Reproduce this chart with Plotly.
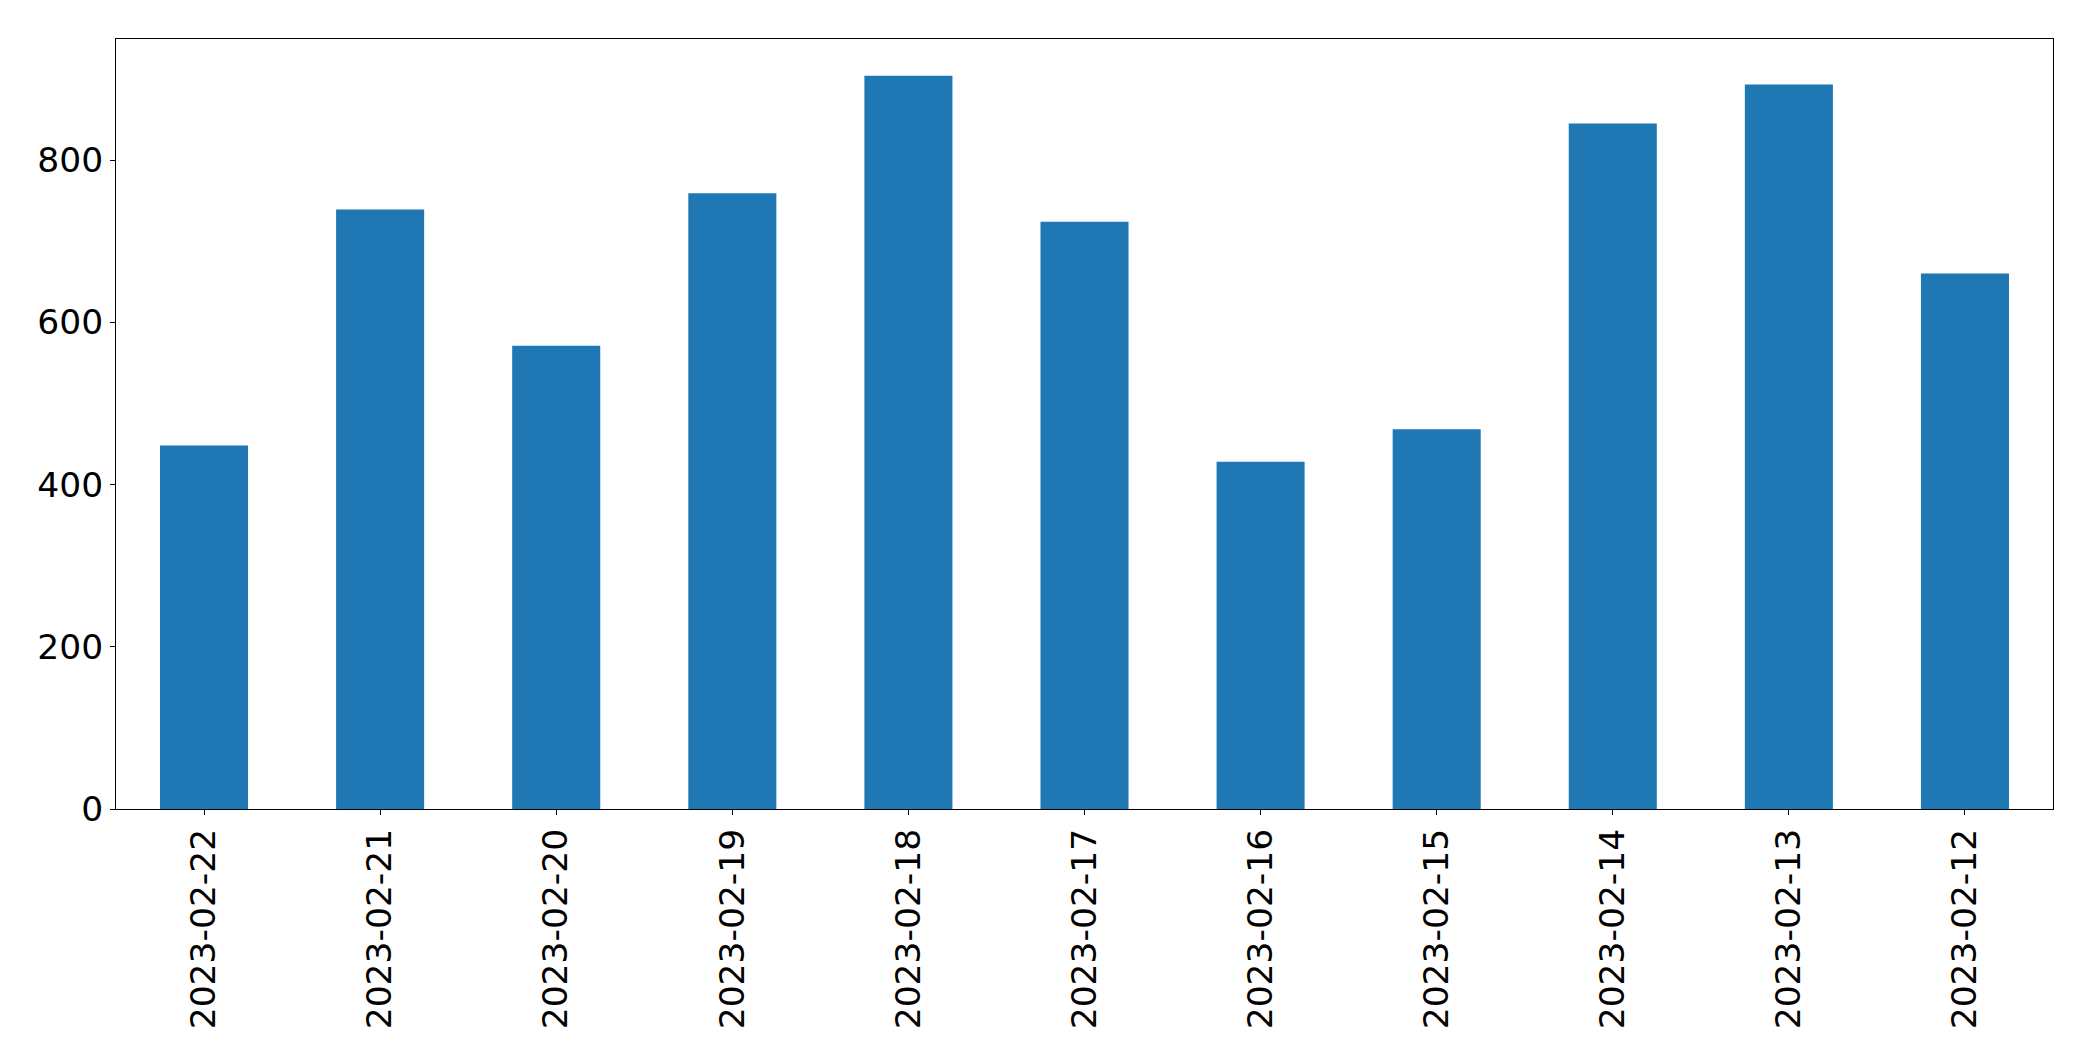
import plotly.graph_objects as go

dates = ["2023-02-22", "2023-02-21", "2023-02-20", "2023-02-19", "2023-02-18",
         "2023-02-17", "2023-02-16", "2023-02-15", "2023-02-14", "2023-02-13",
         "2023-02-12"]
values = [448, 739, 571, 759, 904, 724, 428, 468, 845, 893, 660]
y_ticks = [0, 200, 400, 600, 800]

fig = go.Figure(go.Bar(x=dates, y=values, marker=dict(color="#1f77b4", line=dict(width=0)),
                       width=0.5))

font = dict(family="DejaVu Sans", size=34.5, color="black")
fig.update_layout(
    width=2085, height=1053,
    margin=dict(l=108, r=40, t=31, b=252, pad=0),
    paper_bgcolor="white", plot_bgcolor="white",
    showlegend=False,
    font=font,
)
fig.update_xaxes(type="category", tickangle=-90, showgrid=False, zeroline=False,
                 showline=True, mirror=True, linecolor="black", linewidth=1,
                 ticks="outside", ticklen=5, tickcolor="black", tickwidth=1,
                 tickfont=font, range=[-0.5, len(dates) - 0.5], ticklabelstandoff=0)
fig.update_yaxes(range=[0, max(values) * 1.05], tickvals=y_ticks, showgrid=False,
                 zeroline=False, showline=True, mirror=True, linecolor="black",
                 linewidth=1, ticks="outside", ticklen=5, tickcolor="black", tickwidth=1,
                 tickfont=font, ticklabelstandoff=0)

fig.write_html("out.html")
